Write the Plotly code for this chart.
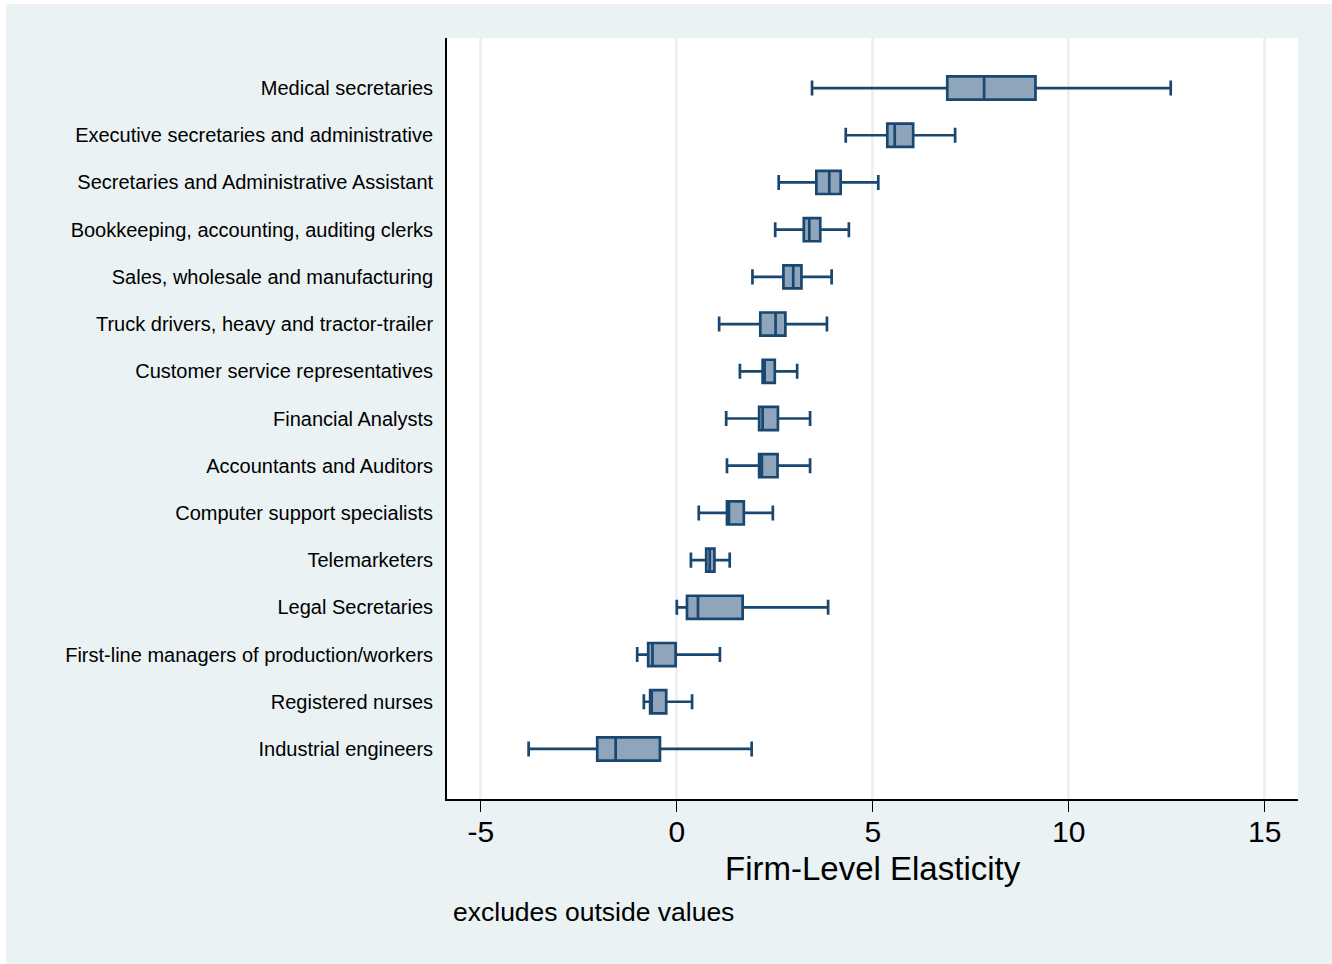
import plotly.graph_objects as go

# Occupations, top to bottom
occupations = [
    "Medical secretaries",
    "Executive secretaries and administrative",
    "Secretaries and Administrative Assistant",
    "Bookkeeping, accounting, auditing clerks",
    "Sales, wholesale and manufacturing",
    "Truck drivers, heavy and tractor-trailer",
    "Customer service representatives",
    "Financial Analysts",
    "Accountants and Auditors",
    "Computer support specialists",
    "Telemarketers",
    "Legal Secretaries",
    "First-line managers of production/workers",
    "Registered nurses",
    "Industrial engineers",
]

# Box-plot summary statistics of the firm-level elasticity
lower_whisker = [3.45, 4.31, 2.60, 2.51, 1.93, 1.08, 1.61, 1.26, 1.28, 0.56, 0.36, 0.00, -1.01, -0.84, -3.78]
q1 = [6.90, 5.37, 3.56, 3.24, 2.72, 2.13, 2.19, 2.10, 2.10, 1.28, 0.75, 0.26, -0.73, -0.68, -2.03]
median = [7.84, 5.56, 3.89, 3.38, 2.97, 2.52, 2.24, 2.19, 2.17, 1.33, 0.84, 0.54, -0.62, -0.64, -1.56]
q3 = [9.15, 6.03, 4.18, 3.66, 3.18, 2.77, 2.50, 2.58, 2.57, 1.71, 0.96, 1.68, -0.03, -0.27, -0.43]
upper_whisker = [12.60, 7.10, 5.14, 4.39, 3.95, 3.83, 3.07, 3.40, 3.40, 2.45, 1.35, 3.86, 1.10, 0.39, 1.91]

x_ticks = [-5, 0, 5, 10, 15]

NAVY = "#1A476F"
FILL = "#8FA5BB"
BG = "#EAF2F3"
FONT = "Liberation Sans, Arial, sans-serif"

W, H = 1332, 964
L, R, T, B = 447, 34, 38, 165
PW, PH = W - L - R, H - T - B


def px_x(p):
    return (p - L) / PW


def px_y(p):
    return (H - B - p) / PH


fig = go.Figure()
fig.add_trace(go.Box(
    y=occupations,
    lowerfence=lower_whisker,
    q1=q1,
    median=median,
    q3=q3,
    upperfence=upper_whisker,
    orientation="h",
    boxpoints=False,
    fillcolor=FILL,
    line=dict(color=NAVY, width=2.7),
    width=0.49,
    whiskerwidth=0.65,
    showlegend=False,
    hoverinfo="skip",
))

fig.update_layout(
    width=W,
    height=H,
    margin=dict(l=L, r=R, t=T, b=B, autoexpand=False),
    paper_bgcolor=BG,
    plot_bgcolor="white",
    font=dict(family=FONT, color="black"),
    xaxis=dict(
        range=[-5.862, 15.847],
        tickvals=x_ticks,
        ticktext=[str(v) for v in x_ticks],
        ticks="outside",
        ticklen=11,
        tickwidth=1.3,
        tickcolor="black",
        ticklabelstandoff=-6,
        tickfont=dict(size=30, family=FONT),
        showgrid=True,
        gridcolor=BG,
        gridwidth=2.5,
        zeroline=False,
        showline=True,
        linecolor="black",
        linewidth=1.8,
    ),
    yaxis=dict(
        type="category",
        categoryorder="array",
        categoryarray=occupations,
        range=[14 + 1.06, -1.06],
        ticks="outside",
        ticklen=8,
        tickcolor="rgba(0,0,0,0)",
        tickfont=dict(size=20, family=FONT),
        showgrid=False,
        zeroline=False,
        showline=True,
        linecolor="black",
        linewidth=1.8,
    ),
    annotations=[
        dict(text="Firm-Level Elasticity", xref="paper", yref="paper",
             x=0.5, y=px_y(868), xanchor="center", yanchor="middle",
             showarrow=False, font=dict(size=33, family=FONT)),
        dict(text="excludes outside values", xref="paper", yref="paper",
             x=px_x(451), y=px_y(912), xanchor="left", yanchor="middle",
             showarrow=False, font=dict(size=26.5, family=FONT)),
    ],
    shapes=[
        # thin white strips along the left and top edges of the page
        dict(type="rect", xref="paper", yref="paper",
             x0=px_x(0), x1=px_x(6), y0=px_y(H), y1=px_y(0),
             fillcolor="white", line=dict(width=0), layer="above"),
        dict(type="rect", xref="paper", yref="paper",
             x0=px_x(0), x1=px_x(W), y0=px_y(4), y1=px_y(0),
             fillcolor="white", line=dict(width=0), layer="above"),
    ],
)

fig.write_html("out.html")
